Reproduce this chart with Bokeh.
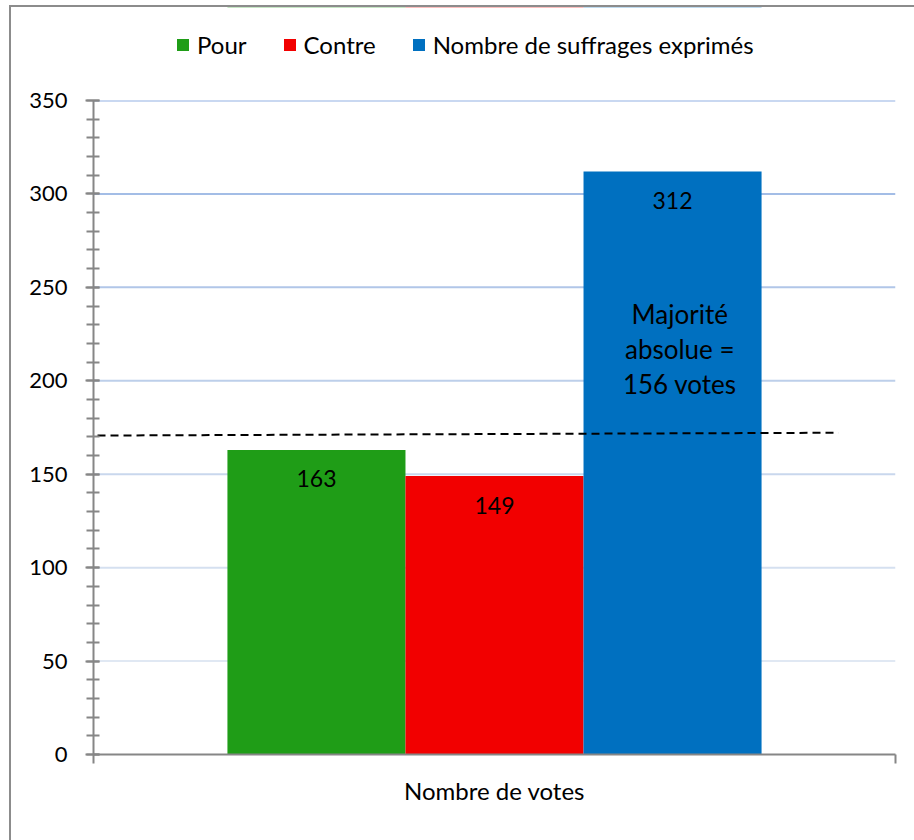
from bokeh.plotting import figure
from bokeh.layouts import column
from bokeh.models import (ColumnDataSource, Range1d, SingleIntervalTicker, FixedTicker,
                          Span, Legend, LegendItem, Label)
from bokeh.core.properties import value
from bokeh.embed import file_html
from bokeh.resources import INLINE

# ---- data ----
categories = ["Pour", "Contre", "Nombre de suffrages exprimés"]
votes = [163, 149, 312]
bar_colors = ["#1f9d17", "#f20000", "#0070c0"]
group_label = "Nombre de votes"
y_ticks = [0, 50, 100, 150, 200, 250, 300, 350]
grid_colors = ["#e0e8f3", "#d5e0f0", "#c9d7ed", "#bdcfea", "#b1c6e8", "#a3bde6", "#93b2e3"]
note_text = "Majorité\nabsolue =\n156 votes"
note_x = 0.731
note_y = 217
threshold_x = [0.005, 0.929]
threshold_y = [170.7, 172.2]

FONT = "Lato"
BORDER = "2px solid #8c8c8c"
bar_w = 0.222
group_center = 0.5
offsets = [-bar_w, 0.0, bar_w]
xs = [group_center + o for o in offsets]

src = ColumnDataSource(dict(x=xs, top=votes, lab=[str(v) for v in votes]))

# ---- main chart ----
p = figure(width=903, height=763, output_backend="svg", toolbar_location=None,
           x_range=Range1d(0, 1), y_range=Range1d(0, 350),
           min_border_left=82, min_border_right=19, min_border_top=23, min_border_bottom=86)
p.outline_line_color = None
p.xgrid.visible = False
p.ygrid.visible = False

for v, c in zip(y_ticks[1:], grid_colors):
    p.add_layout(Span(location=v, dimension="width", line_color=c, line_width=2, level="underlay"))

for i in range(len(categories)):
    s = ColumnDataSource(dict(x=[xs[i]], top=[votes[i]]))
    p.vbar(x="x", top="top", bottom=0, width=bar_w, source=s,
           fill_color=bar_colors[i], line_color=None)

p.text(x="x", y="top", text="lab", source=src, text_align="center", text_baseline="middle",
       y_offset=29, text_font=value(FONT), text_font_size="23px", text_color="#000000")

p.line(threshold_x, threshold_y, line_color="#000000", line_width=2, line_dash="8 5")

p.add_layout(Label(x=note_x, y=note_y, text=note_text, text_align="center",
                   text_baseline="middle", text_font=FONT, text_font_size="26px",
                   text_line_height=1.1, text_color="#000000"))

ya = p.yaxis[0]
ya.ticker = SingleIntervalTicker(interval=50, num_minor_ticks=5)
ya.axis_line_color = "#868686"
ya.axis_line_width = 2
ya.major_tick_line_color = "#868686"
ya.major_tick_line_width = 2
ya.minor_tick_line_color = "#868686"
ya.minor_tick_line_width = 2
ya.major_tick_in = 6
ya.major_tick_out = 8
ya.minor_tick_in = 6
ya.minor_tick_out = 7
ya.major_label_standoff = 18
ya.major_label_text_font = FONT
ya.major_label_text_font_size = "22px"
ya.major_label_text_color = "#000000"

xa = p.xaxis[0]
xa.ticker = FixedTicker(ticks=[0, 1])
xa.major_label_overrides = {0: "", 1: ""}
xa.major_label_standoff = 0
xa.major_label_text_font = FONT
xa.major_label_text_font_size = "22px"
xa.axis_line_color = "#868686"
xa.axis_line_width = 2
xa.major_tick_line_color = "#868686"
xa.major_tick_line_width = 2
xa.major_tick_in = 0
xa.major_tick_out = 9
xa.minor_tick_line_color = None
xa.axis_label = group_label
xa.axis_label_text_font = FONT
xa.axis_label_text_font_size = "24px"
xa.axis_label_text_font_style = "normal"
xa.axis_label_text_color = "#000000"
xa.axis_label_standoff = 12

# ---- legend strip ----
lg = figure(width=903, height=70, output_backend="svg", toolbar_location=None,
            x_range=Range1d(0, 1), y_range=Range1d(-2, -1),
            x_axis_type=None, y_axis_type=None,
            min_border_left=0, min_border_right=0, min_border_top=0, min_border_bottom=0)
lg.outline_line_color = None
lg.xgrid.visible = False
lg.ygrid.visible = False
items = []
for i, c in enumerate(categories):
    s = ColumnDataSource(dict(x=[xs[i]], top=[votes[i]]))
    r = lg.vbar(x="x", top="top", bottom=0, width=bar_w, source=s,
                fill_color=bar_colors[i], line_color=None)
    items.append(LegendItem(label=c, renderers=[r]))
legend = Legend(items=items, orientation="horizontal", location=(82, 18),
                glyph_width=15, glyph_height=15, label_standoff=7, spacing=35,
                padding=0, margin=0, background_fill_alpha=0, border_line_color=None,
                label_text_font=FONT, label_text_font_size="24px", label_text_color="#000000")
lg.add_layout(legend, "center")

layout = column(lg, p, spacing=0)
layout.styles = {"border-left": BORDER, "border-top": BORDER,
                 "margin-left": "9px", "margin-top": "5px"}
open("out.html", "w").write(file_html(layout, INLINE))
